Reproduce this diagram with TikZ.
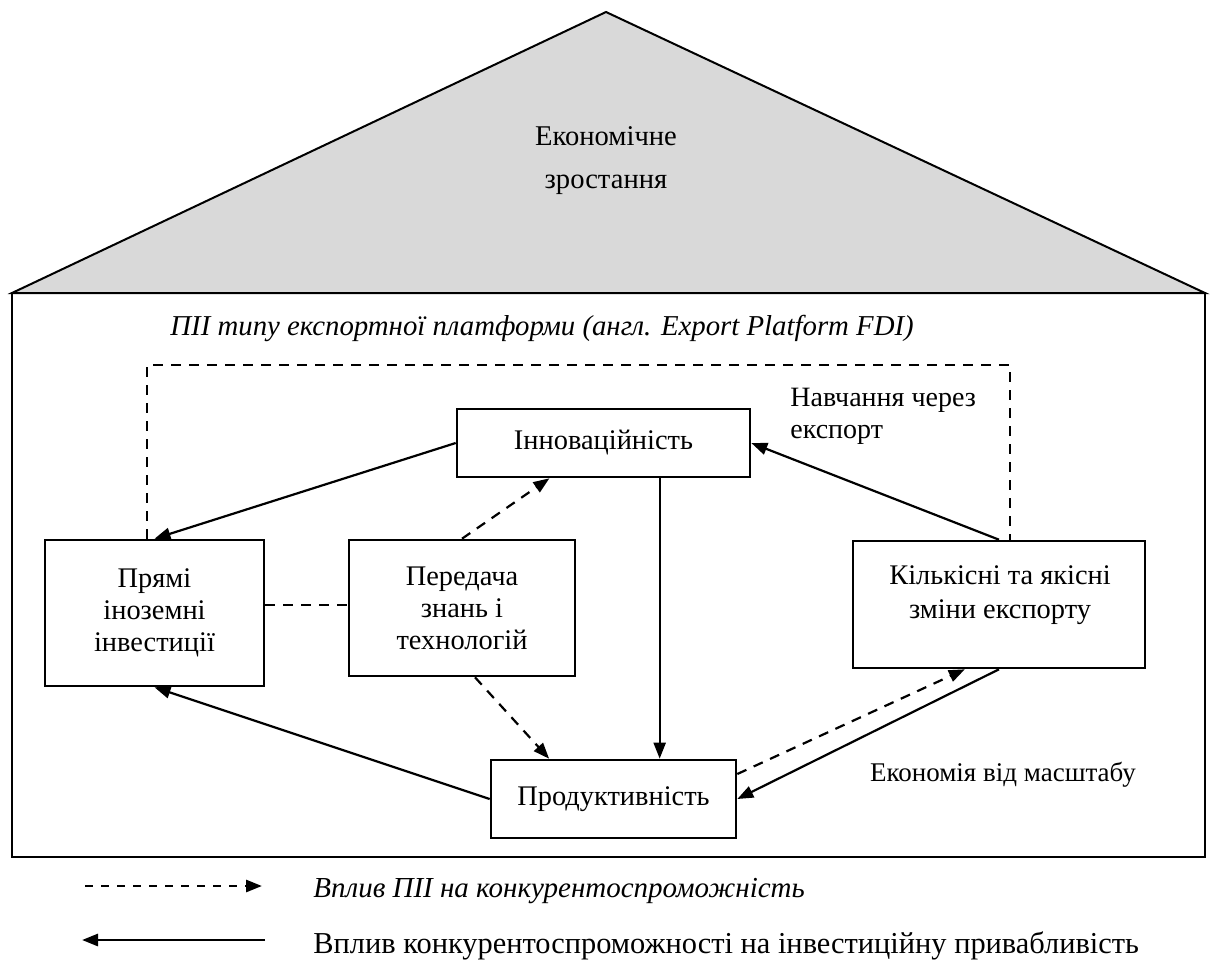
\documentclass[tikz,border=0pt]{standalone}
\usepackage{fontspec}
\setmainfont{Liberation Serif}
\usetikzlibrary{arrows.meta,calc}
\begin{document}
\begin{tikzpicture}[x=0.5pt,y=-0.5pt,
  box/.style={draw, line width=1.3pt, inner sep=0pt, align=center, font=\fontsize{14.2}{16}\selectfont},
  arr/.style={line width=1.1pt, -{Triangle[length=8pt,width=6pt]}},
  dsh/.style={arr, dash pattern=on 5pt off 4pt},
  dline/.style={line width=1.1pt, dash pattern=on 5pt off 4pt},
  lbl/.style={font=\fontsize{14}{16}\selectfont, align=left, inner sep=0pt}]
\useasboundingbox (0,0) rectangle (1210,964);
% roof and house
\draw[line width=1pt, fill=gray!30] (12,293) -- (606,12) -- (1205,293) -- cycle;
\draw[line width=1.1pt] (12,293) rectangle (1205,857);
\node[align=center, font=\fontsize{14.3}{21.5}\selectfont] (roof) at (606,161) {Економічне\\зростання};
\node[anchor=west, font=\fontsize{14.4}{16}\itshape, inner sep=0pt] (title) at (170,328) {ПІІ типу експортної платформи (англ. Export Platform FDI)};
% boxes
\node[box, minimum width=109.5pt, minimum height=73pt] (fdi) at (154.5,613) {Прямі\\іноземні\\інвестиції};
\node[box, minimum width=113pt, minimum height=68pt] (tech) at (462,608) {Передача\\знань і\\технологій};
\node[box, minimum width=146pt, minimum height=63.5pt] (exp) at (999,604.5) {};
\node[align=center, font=\fontsize{14.2}{17}\selectfont, inner sep=0pt] (exptxt) at (1000,595) {Кількісні та якісні\\зміни експорту};
\node[box, minimum width=146.5pt, minimum height=34pt] (inn) at (603.5,443) {Інноваційність};
\node[box, minimum width=122.5pt, minimum height=39pt] (prod) at (613.5,799) {Продуктивність};
% labels
\node[lbl, anchor=north west] (learn) at (790,388) {Навчання через\\експорт};
\node[lbl, font=\fontsize{13.5}{16}\selectfont] (scale) at (1003,775) {Економія від масштабу};
% outer dashed path
\coordinate (dl) at (147,365);
\coordinate (dr) at (1010,365);
\draw[dline, line width=1pt] (dl |- fdi.north) -- (dl) -- (dr) -- (dr |- exp.north);
% connectors
\draw[arr] (inn.west) -- (fdi.north);
\draw[dsh] (tech.north) -- ($(inn.south west)!0.317!(inn.south east)$);
\coordinate (v1) at ($(inn.south west)!0.69!(inn.south east)$);
\draw[arr] (v1) -- (v1 |- prod.north);
\draw[arr] (exp.north) -- (inn.east);
\coordinate (m) at ($(fdi.east)+(0,-8)$);
\draw[dline] (m) -- (m -| tech.west);
\draw[dsh] ($(tech.south)+(13,0)$) -- ($(prod.north west)!0.24!(prod.north east)$);
\draw[arr] (prod.west) -- (fdi.south);
\draw[dsh] ($(prod.north east)!0.19!(prod.south east)$) -- ($(exp.south west)!0.384!(exp.south east)$);
\draw[arr] (exp.south) -- (prod.east);
% legend
\coordinate (l1a) at (85,886);
\coordinate (l1b) at (262,886);
\draw[dsh, line width=1.4pt, dash pattern=on 4pt off 4pt] (l1a) -- (l1b);
\node[anchor=west, font=\fontsize{14.5}{16}\itshape, inner sep=0pt] (leg1) at (313,891) {Вплив ПІІ на конкурентоспроможність};
\coordinate (l2a) at (265,940);
\coordinate (l2b) at (82,940);
\draw[arr, line width=1.4pt] (l2a) -- (l2b);
\node[anchor=west, font=\fontsize{15.2}{16}\selectfont, inner sep=0pt] (leg2) at (313,946) {Вплив конкурентоспроможності на інвестиційну привабливість};
\end{tikzpicture}
\end{document}
